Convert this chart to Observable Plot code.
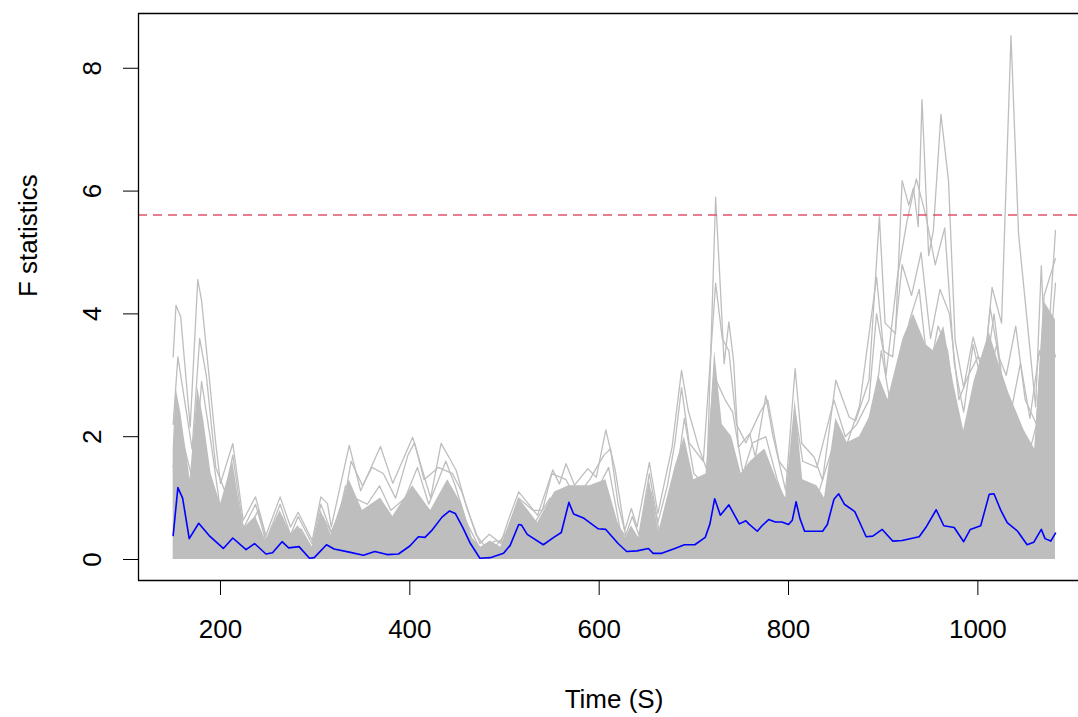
<!DOCTYPE html>
<html>
<head>
<meta charset="utf-8">
<script src="https://cdn.jsdelivr.net/npm/d3@7"></script>
<script src="https://cdn.jsdelivr.net/npm/@observablehq/plot@0.6"></script>
<style>
  html, body { margin: 0; padding: 0; background: #fff; }
  #chart { width: 1078px; height: 717px; overflow: hidden; }
</style>
</head>
<body>
<div id="chart"></div>
<script>
// ---- data ----
const xTicks = [200, 400, 600, 800, 1000];
const yTicks = [0, 2, 4, 6, 8];
const xLabel = "Time (S)";
const yLabel = "F statistics";
const threshold = 5.61;

// observed F statistic (blue)
const obsTime = [150,155,160,167,177,188,203,213,227,236,248,255,265,272,283,294,299,312,320,336,351,363,376,388,400,409,416,423,434,442,448,456,464,474,485,499,506,515,518,524,541,552,560,568,573,584,599,607,620,629,640,652,657,666,680,690,701,712,717,722,728,737,748,755,758,767,772,779,786,793,800,804,808,812,817,836,841,848,853,859,870,875,882,889,899,910,920,938,945,956,964,975,985,992,1003,1012,1017,1024,1031,1042,1052,1059,1067,1071,1077,1082];
const obsF = [0.39,1.17,1.0,0.34,0.59,0.39,0.18,0.35,0.16,0.26,0.09,0.11,0.29,0.19,0.21,0.02,0.03,0.24,0.17,0.12,0.07,0.13,0.08,0.09,0.22,0.37,0.36,0.47,0.69,0.79,0.75,0.52,0.26,0.02,0.03,0.10,0.23,0.57,0.56,0.41,0.24,0.36,0.44,0.93,0.74,0.67,0.50,0.49,0.26,0.13,0.14,0.18,0.10,0.10,0.18,0.24,0.24,0.36,0.58,0.99,0.72,0.89,0.58,0.63,0.58,0.46,0.55,0.65,0.61,0.61,0.57,0.64,0.94,0.67,0.46,0.46,0.57,0.98,1.07,0.90,0.78,0.61,0.37,0.38,0.49,0.30,0.31,0.37,0.52,0.81,0.55,0.52,0.29,0.49,0.55,1.06,1.07,0.81,0.60,0.46,0.24,0.28,0.49,0.34,0.30,0.43];

// dense body of the permutation curves (grey, solid region)
const bandTime = [150,153,158,168,176,182,190,200,213,224,237,248,263,274,282,297,306,317,336,350,369,382,403,422,440,455,466,475,485,496,515,535,553,568,590,607,620,628,634,642,653,663,680,690,700,714,722,730,740,750,760,775,790,797,807,815,830,838,850,862,875,885,895,905,921,932,945,953,964,974,985,996,1012,1022,1033,1049,1060,1070,1082];
const bandTop = [1.8,2.8,2.4,1.3,2.8,2.3,1.4,0.9,1.6,0.5,0.7,0.3,0.8,0.4,0.55,0.2,0.8,0.4,1.3,0.8,1.0,0.7,1.2,0.8,1.3,0.9,0.35,0.2,0.3,0.2,1.0,0.6,1.1,1.2,1.2,1.3,0.6,0.35,0.55,0.35,1.3,0.45,1.5,2.0,1.3,1.4,3.4,2.2,2.0,1.4,1.6,1.8,1.2,1.0,2.6,1.3,1.2,1.0,2.3,1.9,2.0,2.3,3.0,2.6,3.6,4.0,3.5,3.4,3.8,2.9,2.1,2.9,3.7,3.2,2.7,2.1,1.8,4.2,3.9];

// highest permutation curve peaks (grey)
const perm1Time = [150,153,158,168,176,180,195,200,213,224,237,248,263,274,282,297,306,313,317,336,348,369,382,403,422,433,443,449,460,474,484,496,504,515,535,551,558,565,574,588,597,607,617,627,634,640,653,662,677,687,694,705,714,723,728,732,737,742,747,759,765,776,783,797,807,814,827,836,850,864,871,885,896,902,913,920,927,932,937,941,948,953,961,969,976,985,995,1006,1015,1025,1035,1043,1061,1067,1072,1082];
const perm1F = [3.3,4.14,3.95,2.16,4.56,4.22,1.89,1.24,1.89,0.64,1.02,0.39,1.02,0.53,0.77,0.31,1.02,0.91,0.53,1.86,1.12,1.84,1.24,1.99,1.0,1.89,1.62,1.45,0.85,0.26,0.41,0.26,0.64,1.10,0.72,1.46,1.23,1.56,1.21,1.48,1.34,2.11,1.45,0.47,0.83,0.53,1.58,0.75,1.83,3.08,2.43,1.83,1.45,5.90,4.43,3.19,3.87,3.23,1.83,2.05,1.67,2.67,2.05,1.12,3.11,1.89,1.67,1.29,2.92,2.32,2.26,2.92,5.58,3.85,3.68,6.17,5.77,6.05,5.42,7.49,4.95,5.36,7.25,6.17,3.57,2.8,3.62,2.99,4.43,3.85,8.53,5.3,2.49,4.78,3.0,5.36];

// second-highest curve in the right part (grey)
const perm2Time = [860,875,893,903,915,925,935,945,955,965,975,985,995,1005,1013,1022,1030,1040,1050,1062,1070,1082];
const perm2F = [1.8,2.5,4.6,3.0,4.6,5.5,6.2,5.6,4.8,5.4,3.2,2.4,3.5,2.8,4.1,3.3,3.0,3.8,2.6,2.2,4.3,4.9];

// mid-high curves (grey)
const perm3Time = [150,155,162,170,178,185,195,205,213,224,237,248,263,274,282,297,306,317,330,338,350,360,372,385,398,405,415,430,445,455,470,480,490,500,515,530,540,550,565,575,590,605,612,620,628,635,642,653,662,672,680,687,695,710,723,730,737,745,755,770,778,790,800,807,815,830,848,860,872,885,893,900,910,920,930,940,950,960,970,980,990,1000,1010,1017,1025,1035,1045,1055,1065,1073,1082];
const perm3F = [2.2,3.3,2.6,1.8,3.6,3.0,1.5,1.1,1.7,0.5,0.9,0.3,0.9,0.4,0.7,0.25,0.9,0.45,0.9,1.6,1.2,1.5,1.4,1.0,1.7,1.9,1.3,1.5,1.4,1.1,0.4,0.2,0.3,0.3,1.0,0.8,0.8,1.4,1.3,1.0,1.3,1.7,1.8,0.9,0.4,0.7,0.4,1.4,0.6,1.2,1.9,2.8,1.9,1.6,4.5,3.6,3.4,2.2,1.9,2.4,2.6,1.6,1.4,2.4,1.6,1.5,2.6,2.0,2.2,2.6,4.0,3.4,3.3,4.8,4.3,5.0,3.6,4.4,4.0,2.6,3.0,3.3,3.2,4.0,3.0,2.4,3.2,2.3,3.4,2.8,4.5];

const perm4Time = [150,156,164,172,180,190,200,213,226,240,250,265,276,285,298,308,320,332,342,355,368,380,395,408,420,438,448,460,475,490,505,518,532,548,558,570,585,600,610,622,632,640,655,665,683,690,700,712,721,733,741,752,762,776,788,797,805,815,830,852,863,878,890,898,908,918,928,938,948,958,968,978,988,998,1010,1020,1030,1042,1052,1062,1070,1082];
const perm4F = [1.5,2.2,1.7,1.2,2.9,1.9,0.8,1.3,0.4,0.8,0.25,0.7,0.3,0.5,0.15,0.7,0.35,1.2,1.0,0.9,1.2,0.8,1.0,1.5,0.9,1.6,1.2,0.6,0.15,0.2,0.5,0.9,0.6,1.0,0.9,1.2,0.9,1.2,1.5,0.5,0.3,0.25,1.1,0.35,1.5,2.3,1.4,1.2,3.0,2.6,2.4,1.4,1.9,2.0,1.3,0.9,1.9,1.1,1.0,2.1,1.6,1.9,2.3,3.4,2.5,3.2,3.9,4.4,3.0,3.8,3.4,2.2,2.0,2.6,2.9,3.5,2.4,2.0,1.6,2.2,4.0,3.3];

// ---- build tables ----
const zip = (xs, ys) => xs.map((x, i) => ({t: x, f: ys[i]}));
const obs = zip(obsTime, obsF);
const band = zip(bandTime, bandTop);
const perms = [
  ...zip(perm1Time, perm1F).map(d => ({...d, s: "p1"})),
  ...zip(perm2Time, perm2F).map(d => ({...d, s: "p2"})),
  ...zip(perm3Time, perm3F).map(d => ({...d, s: "p3"})),
  ...zip(perm4Time, perm4F).map(d => ({...d, s: "p4"}))
];

const xDom = [113.4, 1106.3];
const yDom = [-0.342, 8.892];
const grey = "#BEBEBE";

const chart = Plot.plot({
  width: 1078,
  height: 717,
  marginLeft: 138,
  marginRight: 0,
  marginTop: 13,
  marginBottom: 137,
  style: {fontFamily: "'Liberation Sans', Arial, sans-serif", fontSize: "26px", color: "#000", background: "#fff"},
  x: {domain: xDom},
  y: {domain: yDom},
  marks: [
    Plot.areaY(band, {x: "t", y1: 0, y2: "f", fill: grey}),
    Plot.line(perms, {x: "t", y: "f", z: "s", stroke: grey, strokeWidth: 1.3}),
    Plot.line(obs, {x: "t", y: "f", stroke: "#0000FF", strokeWidth: 1.6}),
    Plot.ruleY([threshold], {stroke: "#DF536B", strokeWidth: 1.6, strokeDasharray: "9,6"}),
    Plot.ruleX([xDom[0]], {stroke: "#000", strokeWidth: 1.3}),
    Plot.ruleY([yDom[0], yDom[1]], {stroke: "#000", strokeWidth: 1.3}),
    Plot.axisX({ticks: xTicks, tickSize: 15, tickPadding: 24, label: null, tickFormat: d => String(d), stroke: "#000"}),
    Plot.axisY({ticks: yTicks, tickSize: 15, tickPadding: 23, tickRotate: -90, label: null, tickFormat: d => String(d), stroke: "#000"}),
    Plot.text([xLabel], {frameAnchor: "bottom", dx: 5.5, dy: 127, lineAnchor: "bottom", fill: "#000"}),
    Plot.text([yLabel], {frameAnchor: "left", dx: -102, rotate: -90, lineAnchor: "bottom", fill: "#000"})
  ]
});
document.getElementById("chart").appendChild(chart);
</script>
</body>
</html>
